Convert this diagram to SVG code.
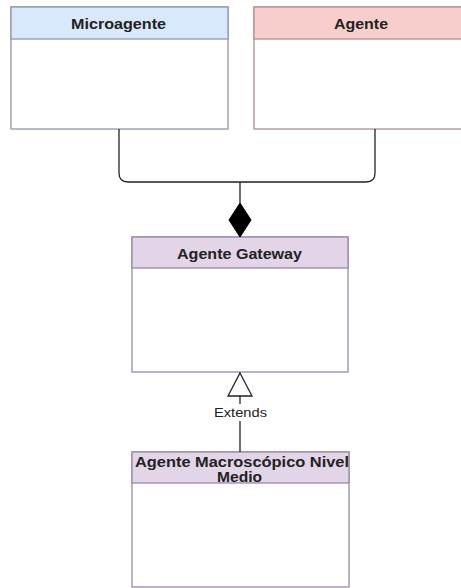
<svg xmlns="http://www.w3.org/2000/svg" width="461" height="588" viewBox="0 0 461 588">
  <style>
    .lbl { font-family: "Liberation Sans", Arial, sans-serif; font-size: 14px; font-weight: bold; fill: #222; text-anchor: middle; }
    .small { font-family: "Liberation Sans", Arial, sans-serif; font-size: 13px; fill: #222; text-anchor: middle; }
    .edge { fill: none; stroke: #222; stroke-width: 1.3; }
  </style>
  <rect width="461" height="588" fill="#ffffff"/>

  <g id="microagente">
    <rect x="11" y="7" width="217" height="122" fill="#ffffff" stroke="#8c9aaa" stroke-width="1.3"/>
    <rect x="11" y="7" width="217" height="32" fill="#dae8fc" stroke="#8c9aaa" stroke-width="1.3"/>
    <text class="lbl" x="118.5" y="29" textLength="95" lengthAdjust="spacingAndGlyphs">Microagente</text>
  </g>

  <g id="agente">
    <rect x="254" y="7" width="208" height="122" fill="#ffffff" stroke="#b49090" stroke-width="1.3"/>
    <rect x="254" y="7" width="208" height="32" fill="#f8cecc" stroke="#b49090" stroke-width="1.3"/>
    <text class="lbl" x="361" y="29" textLength="54" lengthAdjust="spacingAndGlyphs">Agente</text>
  </g>

  <g id="agente-gateway">
    <rect x="132" y="237" width="216" height="135" fill="#ffffff" stroke="#9a88a8" stroke-width="1.3"/>
    <rect x="132" y="237" width="216" height="31" fill="#e1d5e7" stroke="#9a88a8" stroke-width="1.3"/>
    <text class="lbl" x="239.5" y="259" textLength="125" lengthAdjust="spacingAndGlyphs">Agente Gateway</text>
  </g>

  <g id="agente-macroscopico">
    <rect x="132" y="452" width="217" height="135" fill="#ffffff" stroke="#9a88a8" stroke-width="1.3"/>
    <rect x="132" y="452" width="217" height="31" fill="#e1d5e7" stroke="#9a88a8" stroke-width="1.3"/>
    <text class="lbl" x="242" y="467" textLength="214" lengthAdjust="spacingAndGlyphs">Agente Macroscópico Nivel</text>
    <text class="lbl" x="239.5" y="482" textLength="45" lengthAdjust="spacingAndGlyphs">Medio</text>
  </g>

  <g id="connectors">
    <!-- composition: both classes join into one bus ending at a filled diamond -->
    <path class="edge" d="M119 129 V173 Q119 182 128 182 H366 Q375 182 375 173 V129"/>
    <path class="edge" d="M240 182 V203"/>
    <path d="M240 203 L251 220 L240 237 L229 220 Z" fill="#000000" stroke="#000000" stroke-width="1"/>
    <!-- generalization with hollow triangle -->
    <path class="edge" d="M240 452 V421"/>
    <path class="edge" d="M240 404 V396"/>
    <path d="M240 373 L252 396 L228 396 Z" fill="#ffffff" stroke="#222" stroke-width="1.3"/>
    <text class="small" x="240.5" y="417" textLength="53" lengthAdjust="spacingAndGlyphs">Extends</text>
  </g>
</svg>
